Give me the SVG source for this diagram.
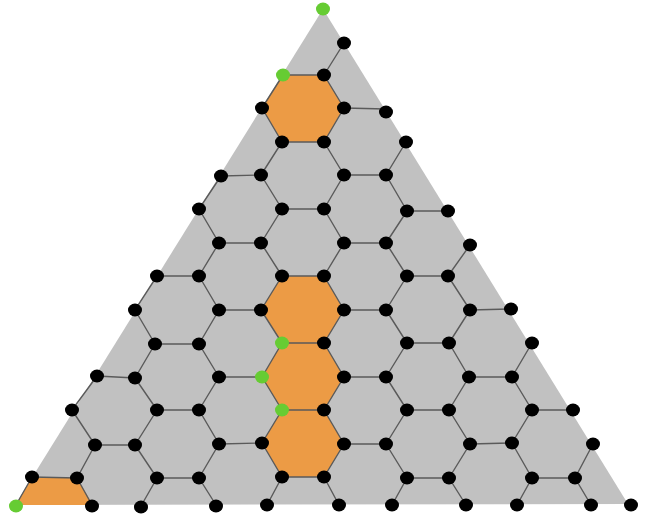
<svg xmlns="http://www.w3.org/2000/svg" width="649" height="519" viewBox="0 0 649 519">
<style>
.tri{fill:#c1c1c1}
.hex{fill:#ec9b45}
.edge{fill:none;stroke:#5a5a5a;stroke-width:1.4;stroke-linecap:round;stroke-linejoin:round}
.d ellipse{fill:#000}
.g ellipse{fill:#66cc33}
</style>
<rect width="649" height="519" fill="#fff"/>
<polygon id="triangle" class="tri" points="323,9 15,505 628,504"/>
<g id="orange">
<polygon id="hex-top" class="hex" points="283,75 324,75 344,108 324,142 282,142 262,108"/>
<polygon id="hex-m1" class="hex" points="282,276 324,276 344,310 324,343 282,343 261,310"/>
<polygon id="hex-m2" class="hex" points="282,343 324,343 344,377 324,410 282,410 262,377"/>
<polygon id="hex-m3" class="hex" points="282,410 324,410 344,444 324,477 282,477 262,443"/>
<polygon id="hex-corner" class="hex" points="16,505 32,477 77,478 93,505"/>
</g>
<g id="connectors">
<path class="edge" d="M283 75H324 M282 142H324 M282 209H324 M407 211H448 M157 276H199 M282 276H324 M407 276H448 M155 344L199 344 M282 343H324 M407 343H449 M157 410H199 M282 410H324 M407 410H449 M532 410H573 M32 477L77 478 M157 478H199 M282 477H324 M407 478H449 M532 478H575 M344 108L386 109 M221 176L261 175 M344 175H386 M219 243H261 M344 243H386 M219 310H261 M344 310H386 M470 310L511 309 M97 376L135 378 M219 377H262 M344 377H386 M469 377L512 377 M95 445L135 445 M219 444L262 443 M344 444H386 M470 444L512 443"/>
<path class="edge" d="M283 75L262 108 M344 43L324 75L344 108 M262 108L282 142L261 175 M344 108L324 142L344 175 M406 142L386 175 M221 176L199 209L219 243 M261 175L282 209L261 243 M344 175L324 209L344 243 M386 175L407 211L386 243 M157 276L135 310 M219 243L199 276L219 310 M261 243L282 276L261 310 M344 243L324 276L344 310 M386 243L407 276L386 310 M470 245L448 276L470 310 M135 310L155 344L135 378 M219 310L199 344L219 377 M261 310L282 343L262 377 M344 310L324 343L344 377 M386 310L407 343L386 377 M470 310L449 343L469 377 M532 343L512 377 M97 376L72 410L95 445 M135 378L157 410L135 445 M219 377L199 410L219 444 M262 377L282 410L262 443 M344 377L324 410L344 444 M386 377L407 410L386 444 M469 377L449 410L470 444 M512 377L532 410L512 443 M32 477L16 505 M95 445L77 478L92 505 M135 445L157 478L141 506 M219 444L199 478L216 505 M262 443L282 477L267 505 M344 444L324 477L339 505 M386 444L407 478L392 505 M470 444L449 478L466 505 M512 443L532 478L517 505 M593 444L575 478L591 505"/>
</g>
<g id="nodes">
<g id="n-apex" class="g"><ellipse cx="323" cy="9" rx="7" ry="6.4"/></g>
<g id="n-344-43" class="d"><ellipse cx="344" cy="43" rx="7" ry="6.4"/></g>
<g id="n-283-75" class="g"><ellipse cx="283" cy="75" rx="7" ry="6.4"/></g>
<g id="n-324-75" class="d"><ellipse cx="324" cy="75" rx="7" ry="6.4"/></g>
<g id="n-262-108" class="d"><ellipse cx="262" cy="108" rx="7" ry="6.4"/></g>
<g id="n-344-108" class="d"><ellipse cx="344" cy="108" rx="7" ry="6.4"/></g>
<g id="n-386-112" class="d"><ellipse cx="386" cy="112" rx="7" ry="6.4"/></g>
<g id="n-282-142" class="d"><ellipse cx="282" cy="142" rx="7" ry="6.4"/></g>
<g id="n-324-142" class="d"><ellipse cx="324" cy="142" rx="7" ry="6.4"/></g>
<g id="n-406-142" class="d"><ellipse cx="406" cy="142" rx="7" ry="6.4"/></g>
<g id="n-221-176" class="d"><ellipse cx="221" cy="176" rx="7" ry="6.4"/></g>
<g id="n-261-175" class="d"><ellipse cx="261" cy="175" rx="7" ry="6.4"/></g>
<g id="n-344-175" class="d"><ellipse cx="344" cy="175" rx="7" ry="6.4"/></g>
<g id="n-386-175" class="d"><ellipse cx="386" cy="175" rx="7" ry="6.4"/></g>
<g id="n-199-209" class="d"><ellipse cx="199" cy="209" rx="7" ry="6.4"/></g>
<g id="n-282-209" class="d"><ellipse cx="282" cy="209" rx="7" ry="6.4"/></g>
<g id="n-324-209" class="d"><ellipse cx="324" cy="209" rx="7" ry="6.4"/></g>
<g id="n-407-211" class="d"><ellipse cx="407" cy="211" rx="7" ry="6.4"/></g>
<g id="n-448-211" class="d"><ellipse cx="448" cy="211" rx="7" ry="6.4"/></g>
<g id="n-219-243" class="d"><ellipse cx="219" cy="243" rx="7" ry="6.4"/></g>
<g id="n-261-243" class="d"><ellipse cx="261" cy="243" rx="7" ry="6.4"/></g>
<g id="n-344-243" class="d"><ellipse cx="344" cy="243" rx="7" ry="6.4"/></g>
<g id="n-386-243" class="d"><ellipse cx="386" cy="243" rx="7" ry="6.4"/></g>
<g id="n-470-245" class="d"><ellipse cx="470" cy="245" rx="7" ry="6.4"/></g>
<g id="n-157-276" class="d"><ellipse cx="157" cy="276" rx="7" ry="6.4"/></g>
<g id="n-199-276" class="d"><ellipse cx="199" cy="276" rx="7" ry="6.4"/></g>
<g id="n-282-276" class="d"><ellipse cx="282" cy="276" rx="7" ry="6.4"/></g>
<g id="n-324-276" class="d"><ellipse cx="324" cy="276" rx="7" ry="6.4"/></g>
<g id="n-407-276" class="d"><ellipse cx="407" cy="276" rx="7" ry="6.4"/></g>
<g id="n-448-276" class="d"><ellipse cx="448" cy="276" rx="7" ry="6.4"/></g>
<g id="n-135-310" class="d"><ellipse cx="135" cy="310" rx="7" ry="6.4"/></g>
<g id="n-219-310" class="d"><ellipse cx="219" cy="310" rx="7" ry="6.4"/></g>
<g id="n-261-310" class="d"><ellipse cx="261" cy="310" rx="7" ry="6.4"/></g>
<g id="n-344-310" class="d"><ellipse cx="344" cy="310" rx="7" ry="6.4"/></g>
<g id="n-386-310" class="d"><ellipse cx="386" cy="310" rx="7" ry="6.4"/></g>
<g id="n-470-310" class="d"><ellipse cx="470" cy="310" rx="7" ry="6.4"/></g>
<g id="n-511-309" class="d"><ellipse cx="511" cy="309" rx="7" ry="6.4"/></g>
<g id="n-155-344" class="d"><ellipse cx="155" cy="344" rx="7" ry="6.4"/></g>
<g id="n-199-344" class="d"><ellipse cx="199" cy="344" rx="7" ry="6.4"/></g>
<g id="n-282-343" class="g"><ellipse cx="282" cy="343" rx="7" ry="6.4"/></g>
<g id="n-324-343" class="d"><ellipse cx="324" cy="343" rx="7" ry="6.4"/></g>
<g id="n-407-343" class="d"><ellipse cx="407" cy="343" rx="7" ry="6.4"/></g>
<g id="n-449-343" class="d"><ellipse cx="449" cy="343" rx="7" ry="6.4"/></g>
<g id="n-532-343" class="d"><ellipse cx="532" cy="343" rx="7" ry="6.4"/></g>
<g id="n-97-376" class="d"><ellipse cx="97" cy="376" rx="7" ry="6.4"/></g>
<g id="n-135-378" class="d"><ellipse cx="135" cy="378" rx="7" ry="6.4"/></g>
<g id="n-219-377" class="d"><ellipse cx="219" cy="377" rx="7" ry="6.4"/></g>
<g id="n-262-377" class="g"><ellipse cx="262" cy="377" rx="7" ry="6.4"/></g>
<g id="n-344-377" class="d"><ellipse cx="344" cy="377" rx="7" ry="6.4"/></g>
<g id="n-386-377" class="d"><ellipse cx="386" cy="377" rx="7" ry="6.4"/></g>
<g id="n-469-377" class="d"><ellipse cx="469" cy="377" rx="7" ry="6.4"/></g>
<g id="n-512-377" class="d"><ellipse cx="512" cy="377" rx="7" ry="6.4"/></g>
<g id="n-72-410" class="d"><ellipse cx="72" cy="410" rx="7" ry="6.4"/></g>
<g id="n-157-410" class="d"><ellipse cx="157" cy="410" rx="7" ry="6.4"/></g>
<g id="n-199-410" class="d"><ellipse cx="199" cy="410" rx="7" ry="6.4"/></g>
<g id="n-282-410" class="g"><ellipse cx="282" cy="410" rx="7" ry="6.4"/></g>
<g id="n-324-410" class="d"><ellipse cx="324" cy="410" rx="7" ry="6.4"/></g>
<g id="n-407-410" class="d"><ellipse cx="407" cy="410" rx="7" ry="6.4"/></g>
<g id="n-449-410" class="d"><ellipse cx="449" cy="410" rx="7" ry="6.4"/></g>
<g id="n-532-410" class="d"><ellipse cx="532" cy="410" rx="7" ry="6.4"/></g>
<g id="n-573-410" class="d"><ellipse cx="573" cy="410" rx="7" ry="6.4"/></g>
<g id="n-95-445" class="d"><ellipse cx="95" cy="445" rx="7" ry="6.4"/></g>
<g id="n-135-445" class="d"><ellipse cx="135" cy="445" rx="7" ry="6.4"/></g>
<g id="n-219-444" class="d"><ellipse cx="219" cy="444" rx="7" ry="6.4"/></g>
<g id="n-262-443" class="d"><ellipse cx="262" cy="443" rx="7" ry="6.4"/></g>
<g id="n-344-444" class="d"><ellipse cx="344" cy="444" rx="7" ry="6.4"/></g>
<g id="n-386-444" class="d"><ellipse cx="386" cy="444" rx="7" ry="6.4"/></g>
<g id="n-470-444" class="d"><ellipse cx="470" cy="444" rx="7" ry="6.4"/></g>
<g id="n-512-443" class="d"><ellipse cx="512" cy="443" rx="7" ry="6.4"/></g>
<g id="n-593-444" class="d"><ellipse cx="593" cy="444" rx="7" ry="6.4"/></g>
<g id="n-32-477" class="d"><ellipse cx="32" cy="477" rx="7" ry="6.4"/></g>
<g id="n-77-478" class="d"><ellipse cx="77" cy="478" rx="7" ry="6.4"/></g>
<g id="n-157-478" class="d"><ellipse cx="157" cy="478" rx="7" ry="6.4"/></g>
<g id="n-199-478" class="d"><ellipse cx="199" cy="478" rx="7" ry="6.4"/></g>
<g id="n-282-477" class="d"><ellipse cx="282" cy="477" rx="7" ry="6.4"/></g>
<g id="n-324-477" class="d"><ellipse cx="324" cy="477" rx="7" ry="6.4"/></g>
<g id="n-407-478" class="d"><ellipse cx="407" cy="478" rx="7" ry="6.4"/></g>
<g id="n-449-478" class="d"><ellipse cx="449" cy="478" rx="7" ry="6.4"/></g>
<g id="n-532-478" class="d"><ellipse cx="532" cy="478" rx="7" ry="6.4"/></g>
<g id="n-575-478" class="d"><ellipse cx="575" cy="478" rx="7" ry="6.4"/></g>
<g id="n-16-506" class="g"><ellipse cx="16" cy="506" rx="7" ry="6.4"/></g>
<g id="n-92-506" class="d"><ellipse cx="92" cy="506" rx="7" ry="6.4"/></g>
<g id="n-141-507" class="d"><ellipse cx="141" cy="507" rx="7" ry="6.4"/></g>
<g id="n-216-506" class="d"><ellipse cx="216" cy="506" rx="7" ry="6.4"/></g>
<g id="n-267-505" class="d"><ellipse cx="267" cy="505" rx="7" ry="6.4"/></g>
<g id="n-339-505" class="d"><ellipse cx="339" cy="505" rx="7" ry="6.4"/></g>
<g id="n-392-505" class="d"><ellipse cx="392" cy="505" rx="7" ry="6.4"/></g>
<g id="n-466-505" class="d"><ellipse cx="466" cy="505" rx="7" ry="6.4"/></g>
<g id="n-517-505" class="d"><ellipse cx="517" cy="505" rx="7" ry="6.4"/></g>
<g id="n-591-505" class="d"><ellipse cx="591" cy="505" rx="7" ry="6.4"/></g>
<g id="n-631-505" class="d"><ellipse cx="631" cy="505" rx="7" ry="6.4"/></g>
</g>
</svg>
